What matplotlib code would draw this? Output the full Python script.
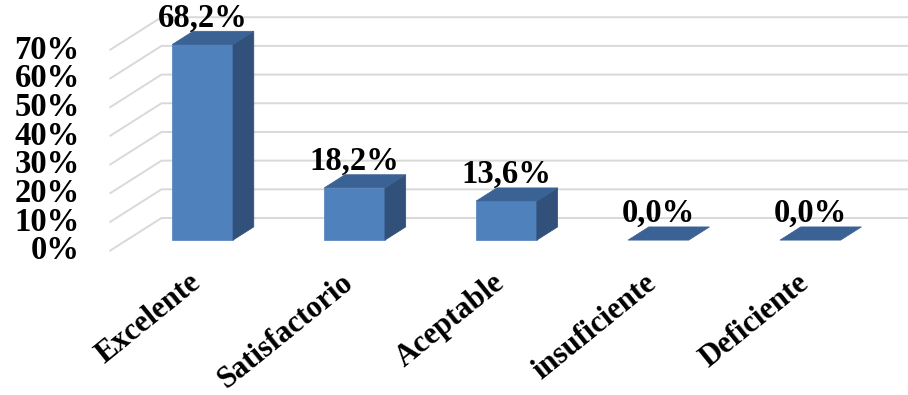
import matplotlib
matplotlib.use("Agg")
import matplotlib.pyplot as plt
from matplotlib.patches import Polygon

categories = ["Excelente", "Satisfactorio", "Aceptable", "insuficiente", "Deficiente"]
values = [68.2, 18.2, 13.6, 0.0, 0.0]
value_labels = ["68,2%", "18,2%", "13,6%", "0,0%", "0,0%"]
y_ticks = [0, 10, 20, 30, 40, 50, 60, 70]
y_tick_labels = ["0%", "10%", "20%", "30%", "40%", "50%", "60%", "70%"]

FONT = ["Liberation Serif", "DejaVu Serif"]
FRONT = "#4F81BD"
SIDE = "#31507A"
TOP = "#3B6294"
GRID = "#D9D9D9"
FS = 23.5
FS_CAT = 22

# 3D projection: depth z in [0,1] shifts points right and up
DX, DY = 0.342, 11.5
Z0, Z1 = 0.33, 0.73
HW = 0.20

def proj(x, y, z):
    return (x + z * DX, y + z * DY)

fig = plt.figure(figsize=(9.08, 3.95), dpi=100)
ax = fig.add_axes([0, 0, 1, 1])
ax.set_xlim(-1.221, 4.756)
ax.set_ylim(-50.2, 87.5)
ax.axis("off")

n = len(categories)
xl = -0.5
xr = n - 0.5 + 1.0

# gridlines: left wall diagonals + back wall horizontals
for v, lab in zip(y_ticks, y_tick_labels):
    p0 = proj(xl, v, 0)
    p1 = proj(xl, v, 1)
    p2 = proj(xr, v, 1)
    ax.plot([p0[0], p1[0], p2[0]], [p0[1], p1[1], p2[1]],
            color=GRID, lw=1.4, zorder=1, solid_capstyle="butt")
    ax.annotate(lab, xy=p0, xytext=(-21.5, 0), textcoords="offset points",
                ha="right", va="center", fontsize=FS, fontweight="bold",
                family=FONT, color="black")

# bars
for i, (v, vl) in enumerate(zip(values, value_labels)):
    x0, x1 = i - HW, i + HW
    front = [proj(x0, 0, Z0), proj(x1, 0, Z0), proj(x1, v, Z0), proj(x0, v, Z0)]
    side = [proj(x1, 0, Z0), proj(x1, 0, Z1), proj(x1, v, Z1), proj(x1, v, Z0)]
    top = [proj(x0, v, Z0), proj(x1, v, Z0), proj(x1, v, Z1), proj(x0, v, Z1)]
    if v > 0:
        ax.add_patch(Polygon(front, closed=True, facecolor=FRONT, edgecolor=FRONT, lw=0.5, zorder=3))
        ax.add_patch(Polygon(side, closed=True, facecolor=SIDE, edgecolor=SIDE, lw=0.5, zorder=3))
    ax.add_patch(Polygon(top, closed=True, facecolor=TOP, edgecolor=TOP, lw=0.5, zorder=3))
    lx, _ = proj(i, v, Z0)
    _, ly = proj(i, v, Z1)
    ax.annotate(vl, xy=(lx, ly), xytext=(0, 3.5), textcoords="offset points",
                ha="center", va="baseline", fontsize=FS, fontweight="bold",
                family=FONT, color="black", zorder=5)

# category labels
for i, c in enumerate(categories):
    ax.text(i + 0.08, -10.0, c, rotation=39, rotation_mode="anchor",
            ha="right", va="center", fontsize=FS_CAT, fontweight="bold",
            family=FONT, color="black")

fig.savefig("out.png", dpi=100)
